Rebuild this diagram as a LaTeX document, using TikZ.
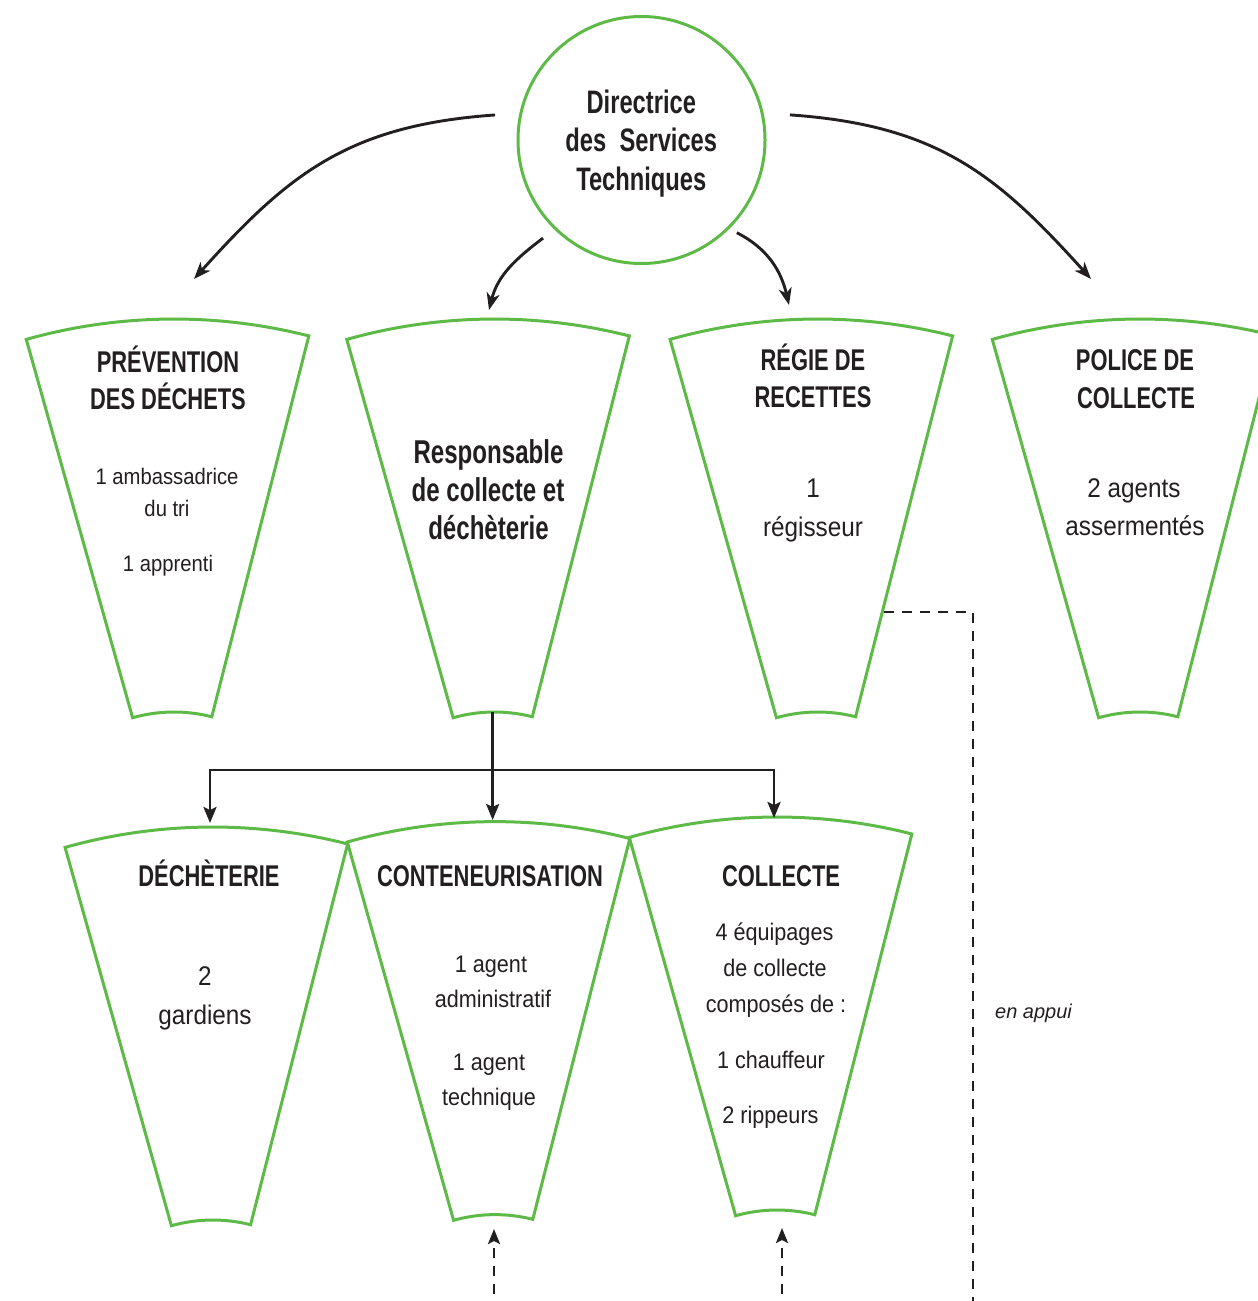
\documentclass[tikz,border=0pt]{standalone}
\usepackage{fontspec}
\setmainfont{Liberation Sans}
\newfontfamily\condb[FakeStretch=0.73]{Liberation Sans}
\newfontfamily\condr[FakeStretch=0.9]{Liberation Sans}
\usetikzlibrary{arrows.meta,calc}
\definecolor{fgreen}{RGB}{94,186,71}
\definecolor{ink}{RGB}{35,31,32}
\tikzset{
  fanline/.style={draw=fgreen, line width=3pt, line join=miter},
  hd/.style={font=\condb\bfseries\fontsize{30}{36}\selectfont, text=ink, inner sep=0pt, anchor=base},
  bd/.style={font=\condb\bfseries\fontsize{33}{40}\selectfont, text=ink, inner sep=0pt, anchor=base},
  cd/.style={font=\condb\bfseries\fontsize{32.5}{39}\selectfont, text=ink, inner sep=0pt, anchor=base},
  tx/.style={font=\condr\fontsize{27}{32}\selectfont, text=ink, inner sep=0pt, anchor=base},
  sm/.style={font=\condr\fontsize{24}{29}\selectfont, text=ink, inner sep=0pt, anchor=base},
  xs/.style={font=\condr\fontsize{22.5}{27}\selectfont, text=ink, inner sep=0pt, anchor=base},
  note/.style={font=\itshape\fontsize{20}{24}\selectfont, text=ink, inner sep=0pt, anchor=base},
  arr/.style={draw=ink, line width=2.9pt, -{Stealth[length=17pt,width=13pt,inset=5pt]}},
  tree/.style={draw=ink, line width=2.7pt},
  treearr/.style={tree, -{Stealth[length=16pt,width=13pt,inset=3pt]}},
  dsh/.style={draw=ink, line width=2.6pt, dash pattern=on 10pt off 8pt},
  dsharr/.style={dsh, -{Stealth[length=15pt,width=12pt,inset=3pt]}},
}
\newcommand\drawfan[3]{%
  \coordinate (#1-apex) at (#2,-#3);
  \coordinate (#1-top) at ($(#1-apex)+(90.7:546)$);
  \coordinate (#1-bot) at ($(#1-apex)+(90.7:153)$);
  \draw[fanline] ($(#1-apex)+(75.7:153)$) -- ($(#1-apex)+(75.7:546)$)
    arc[start angle=75.7, end angle=105.7, radius=546]
    -- ($(#1-apex)+(105.7:153)$)
    arc[start angle=105.7, end angle=75.7, radius=153] -- cycle;
}
\begin{document}
\begin{tikzpicture}[x=1pt,y=1pt]
\useasboundingbox (0,0) rectangle (1258,-1301);
\clip (0,0) rectangle (1258,-1301);

% central circle
\node[circle, draw=fgreen, line width=3pt, minimum size=247pt, inner sep=0pt] (dst) at (641.5,-140) {};
\node[cd] (c1) at (641.3,-113.3) {Directrice};
\node[cd] (c2) at (641.3,-151.7) {des~~Services};
\node[cd] (c3) at (641.3,-190) {Techniques};

% fans
\drawfan{f1}{174}{865}
\drawfan{f2}{494.5}{865}
\drawfan{f3}{817.8}{865}
\drawfan{f4}{1140}{865}
\drawfan{f5}{212.8}{1373}
\drawfan{f6}{495}{1367.6}
\drawfan{f7}{777}{1363}

% texts
\node[hd] (t1a) at (168,-372) {PRÉVENTION};
\node[hd] (t1b) at (168,-409.5) {DES DÉCHETS};
\node[xs] (t1c) at (167,-484) {1 ambassadrice};
\node[xs] (t1d) at (167,-516) {du tri};
\node[xs] (t1e) at (168,-571) {1 apprenti};

\node[bd] (t2a) at (488.5,-463) {Responsable};
\node[bd] (t2b) at (488,-501) {de collecte et};
\node[bd] (t2c) at (488.5,-539) {déchèterie};

\node[hd] (t3a) at (813,-370) {RÉGIE DE};
\node[hd] (t3b) at (813,-407.5) {RECETTES};
\node[tx] (t3c) at (813,-497) {1};
\node[tx] (t3d) at (813,-536.5) {régisseur};

\node[hd] (t4a) at (1135,-370.5) {POLICE DE};
\node[hd] (t4b) at (1136,-408) {COLLECTE};
\node[tx] (t4c) at (1134,-497) {2 agents};
\node[tx] (t4d) at (1135,-535) {assermentés};

\node[hd] (t5a) at (209,-886) {DÉCHÈTERIE};
\node[tx] (t5b) at (205,-985) {2};
\node[tx] (t5c) at (205,-1024) {gardiens};

\node[hd] (t6a) at (490,-886) {CONTENEURISATION};
\node[sm] (t6b) at (491,-972) {1 agent};
\node[sm] (t6c) at (493,-1007) {administratif};
\node[sm] (t6d) at (489,-1070) {1 agent};
\node[sm] (t6e) at (489,-1105) {technique};

\node[hd] (t7a) at (781,-886) {COLLECTE};
\node[sm] (t7b) at (774.5,-940) {4 équipages};
\node[sm] (t7c) at (775,-976) {de collecte};
\node[sm] (t7d) at (776,-1012) {composés de :};
\node[sm] (t7e) at (771,-1068) {1 chauffeur};
\node[sm] (t7f) at (770.5,-1123) {2 rippeurs};

\node[note] (enappui) at (1033.5,-1018) {en appui};

% arrows from the circle
\coordinate (a1s) at ($(dst.center)+(170.3:148.6)$);
\coordinate (a1e) at (194,-279);
\coordinate (a2s) at ($(dst.center)+(9.6:150.6)$);
\coordinate (a2e) at (1091,-279);
\coordinate (a3s) at ($(dst.center)+(224.9:139)$);
\coordinate (a3e) at (489,-310);
\coordinate (a4s) at ($(dst.center)+(315.8:133)$);
\coordinate (a4e) at (789,-305);
\draw[arr] (a1s) to[out=184,in=48,out looseness=1.1,in looseness=1.05] (a1e);
\draw[arr] (a2s) to[out=-4,in=132,out looseness=1.1,in looseness=1.05] (a2e);
\draw[arr] (a3s) to[out=217,in=76] (a3e);
\draw[arr] (a4s) to[out=333,in=103] (a4e);

% tree below the responsable
\coordinate (junc) at (f2-bot |- 0,-770);
\coordinate (d5) at (210,-823);
\coordinate (d6) at (junc |- 0,-820);
\coordinate (d7) at (774,-818);
\draw[tree] (f2-bot) -- (junc);
\draw[treearr] (junc) -| (d5);
\draw[treearr] (junc) -- (d6);
\draw[treearr] (junc) -| (d7);

% dashed "en appui" line
\coordinate (r3) at (884,-612);
\coordinate (rc) at (973,-612);
\coordinate (rb) at (973,-1312);
\draw[dsh] (r3) -- (rc) -- (rb);

% dashed arrows from below
\coordinate (u6s) at (494,-1312);
\coordinate (u6e) at (494,-1229);
\coordinate (u7s) at (782,-1312);
\coordinate (u7e) at (782,-1228);
\draw[dsharr] (u6s) -- (u6e);
\draw[dsharr] (u7s) -- (u7e);
\end{tikzpicture}
\end{document}
